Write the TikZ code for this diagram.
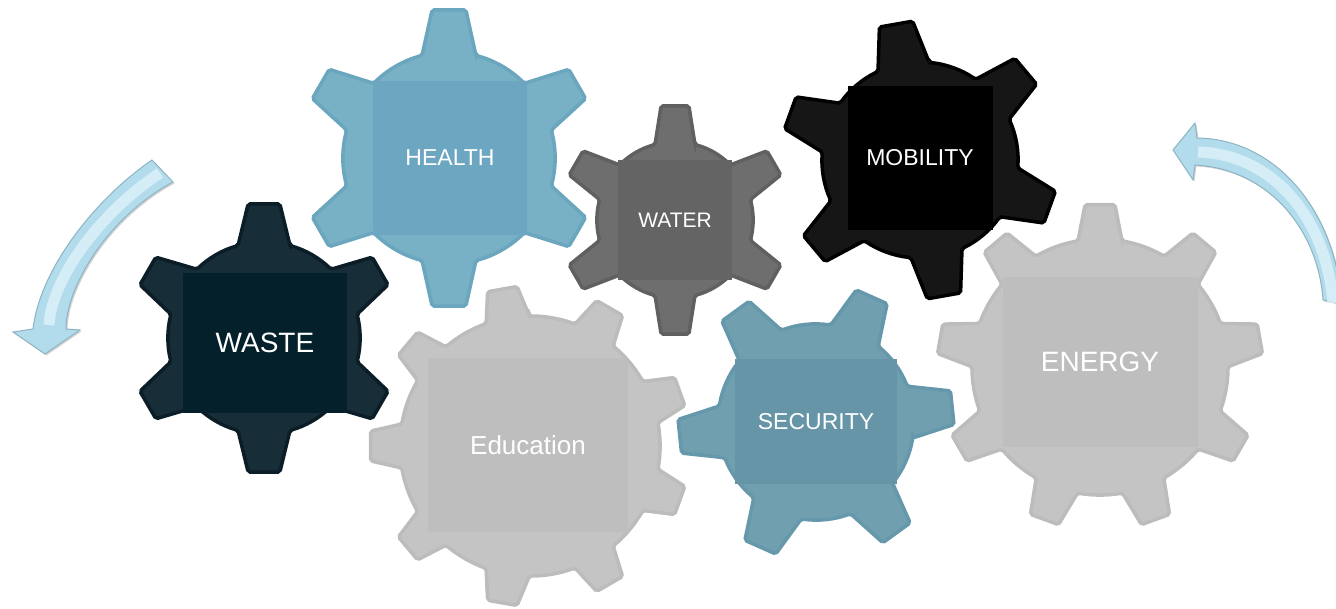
\documentclass[tikz,border=0pt]{standalone}
\usepackage{fontspec}
\setmainfont{Liberation Sans}
\usepackage{tikz}
\usetikzlibrary{shadows}
\definecolor{wastebody}{HTML}{172D38}
\definecolor{wasteline}{HTML}{0B1D26}
\definecolor{wastebox}{HTML}{03202B}
\definecolor{healthbody}{HTML}{78B0C5}
\definecolor{healthline}{HTML}{6AA6BE}
\definecolor{healthbox}{HTML}{6CA6C0}
\definecolor{waterbody}{HTML}{6E6E6E}
\definecolor{waterline}{HTML}{606060}
\definecolor{waterbox}{HTML}{646464}
\definecolor{mobbody}{HTML}{161616}
\definecolor{mobline}{HTML}{000000}
\definecolor{mobbox}{HTML}{000000}
\definecolor{secbody}{HTML}{70A0B0}
\definecolor{secline}{HTML}{6598AB}
\definecolor{secbox}{HTML}{6795A8}
\definecolor{greybody}{HTML}{C4C4C4}
\definecolor{greyline}{HTML}{BCBCBC}
\definecolor{greybox}{HTML}{BEBEBE}
\definecolor{arrowblue}{HTML}{B2DCEB}
\definecolor{arrowedge}{HTML}{8DB4C2}
\definecolor{arrowglint}{HTML}{DDF2F9}
\tikzset{%
	cogline/.style   = {line width=3.5pt, rounded corners=2pt},
	cogbox/.style    = {rectangle, inner sep=0pt, text=white},
	turnarrow/.style = {fill=arrowblue, draw=arrowedge, line width=1pt, drop shadow={opacity=0.35, shadow xshift=1.5pt, shadow yshift=-1.5pt}},
	glint/.style     = {draw=arrowglint, line width=11pt, opacity=0.8},
}
% centre x, centre y, body radius, tip radius, teeth, first tooth angle, half base, half tip, colours
\newcommand{\cog}[9]{%
	\pgfmathsetmacro{\cogdb}{asin(#7/#3)}
	\pgfmathsetmacro{\cogdt}{atan(#8/#4)}
	\pgfmathsetmacro{\cogst}{360/#5}
	\draw[cogline, #9, shift={(#1,#2)}] ({#6-\cogdb}:#3)
		\foreach \i in {1,...,#5} { -- ({#6+(\i-1)*\cogst-\cogdt}:#4) -- ({#6+(\i-1)*\cogst+\cogdt}:#4) -- ({#6+(\i-1)*\cogst+\cogdb}:#3) arc[start angle={#6+(\i-1)*\cogst+\cogdb}, delta angle={\cogst-2*\cogdb}, radius=#3] } -- cycle;
}

\begin{document}
\begin{tikzpicture}[x=1pt,y=1pt]
		\useasboundingbox (0,0) rectangle (1336,609);
		\clip (0,0) rectangle (1336,609);
		
		% left turning arrow
		\path[turnarrow] (152,449) .. controls (95,410) and (40,340) .. (33,280) -- (13,277) -- (45,255) -- (80,279) -- (66,280) .. controls (66,320) and (105,390) .. (173,427) -- cycle;
		\path[glint] (160,436) .. controls (102,398) and (52,332) .. (49,284);
		
		% right turning arrow
		\path[turnarrow] (1197,471) .. controls (1275,470) and (1335,400) .. (1342,305) -- (1323,309) .. controls (1318,380) and (1268,440) .. (1195,444) -- (1193,429) -- (1173,459) -- (1195,486) -- cycle;
		\path[glint] (1198,457) .. controls (1272,455) and (1326,392) .. (1333,306);
		
		% waste gear
		\cog{264}{271}{96}{135}{6}{90}{26}{16}{fill=wastebody, draw=wasteline}
		\node[cogbox, fill=wastebox, minimum width=164pt, minimum height=140pt, font=\fontsize{28}{32}\selectfont] (waste) at (265,266) {WASTE};
		
		% health gear
		\cog{449}{451}{106}{149}{6}{90}{27}{17}{fill=healthbody, draw=healthline}
		\node[cogbox, fill=healthbox, minimum width=154pt, minimum height=154pt, font=\fontsize{23}{27}\selectfont] (health) at (450,451) {HEALTH};
		
		% water gear
		\cog{675}{389}{78}{115}{6}{90}{20}{14}{fill=waterbody, draw=waterline}
		\node[cogbox, fill=waterbox, minimum width=114pt, minimum height=120pt, font=\fontsize{21}{25}\selectfont] (water) at (675,389) {WATER};
		
		% mobility gear
		\cog{920}{449}{98}{139}{6}{100}{26}{17}{fill=mobbody, draw=mobline}
		\node[cogbox, fill=mobbox, minimum width=145pt, minimum height=144pt, font=\fontsize{23}{27}\selectfont] (mobility) at (920,451) {MOBILITY};
		
		% security gear
		\cog{816}{187}{98}{138}{6}{6}{26}{17}{fill=secbody, draw=secline}
		\node[cogbox, fill=secbox, minimum width=162pt, minimum height=125pt, font=\fontsize{23}{27}\selectfont] (security) at (816,187) {SECURITY};
		
		% education gear
		\cog{530}{163}{130}{160}{9}{100}{22}{15}{fill=greybody, draw=greyline}
		\node[cogbox, fill=greybox, minimum width=200pt, minimum height=174pt, font=\fontsize{26}{30}\selectfont] (education) at (528,164) {Education};
		
		% energy gear
		\cog{1100}{242}{128}{163}{9}{90}{22}{15}{fill=greybody, draw=greyline}
		\node[cogbox, fill=greybox, minimum width=195pt, minimum height=170pt, font=\fontsize{28}{32}\selectfont] (energy) at (1100,247) {ENERGY};
\end{tikzpicture}
\end{document}
